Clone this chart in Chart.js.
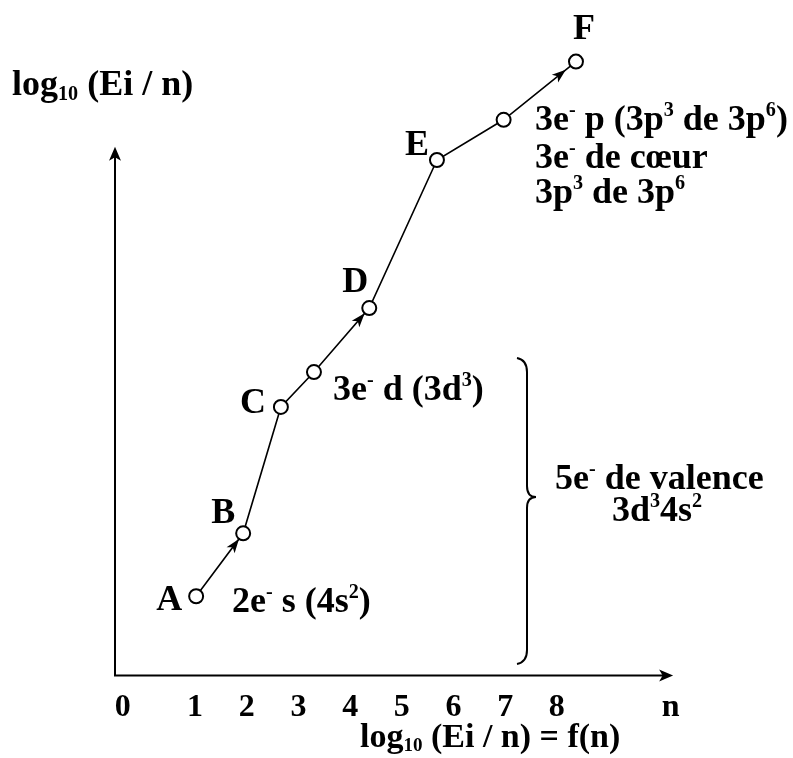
<!DOCTYPE html>
<html>
<head>
<meta charset="utf-8">
<script src="https://cdn.jsdelivr.net/npm/chart.js@4.4.0/dist/chart.umd.min.js"></script>
<style>
html, body { margin: 0; padding: 0; background: #fff; }
#wrap { width: 793px; height: 758px; }
</style>
</head>
<body>
<div id="wrap"><canvas id="ionisation" width="793" height="758"></canvas></div>
<script>
// successive ionisations, A..F plus two unnamed steps
var pointNames = ['A', 'B', 'C', '', 'D', 'E', '', 'F'];
var nPos = [1.02, 1.93, 2.66, 3.30, 4.37, 5.68, 6.97, 8.37];
var logEi = [1.50, 2.69, 5.08, 5.74, 6.95, 9.75, 10.51, 11.61];

// horizontal axis graduations
var tickValues = [-0.4, 1, 2, 3, 4, 5, 6, 7, 8, 10.2];
var tickLabels = ['0', '1', '2', '3', '4', '5', '6', '7', '8', 'n'];

// segments (start index) that carry an arrowhead, and gap before the next circle
var arrowFrom = [0, 3, 6];
var arrowGap = [7, 7, 13];

var SERIF = '"Liberation Serif", "Times New Roman", serif';
var FS = 36;

// letter offsets (px) from each named point
var nameOffsets = {
  A: [-27, 1], B: [-20, -23], C: [-28, -6], D: [-14, -28], E: [-20, -17], F: [8, -35]
};

// text with ^{..} superscripts and _{..} subscripts
function richText(ctx, str, x, y, size, align) {
  var re = /([\^_])\{([^}]*)\}|([^\^_]+)/g, m, parts = [];
  while ((m = re.exec(str))) {
    if (m[3] != null) parts.push({ t: m[3], k: 0 });
    else parts.push({ t: m[2], k: m[1] === '^' ? 1 : -1 });
  }
  var total = 0;
  parts.forEach(function (p) {
    var s = p.k ? size * 0.56 : size;
    ctx.font = 'bold ' + s + 'px ' + SERIF;
    p.w = ctx.measureText(p.t).width;
    p.s = s;
    total += p.w;
  });
  var cx = align === 'center' ? x - total / 2 : x;
  var base = y + size * 0.34;
  ctx.textBaseline = 'alphabetic';
  ctx.textAlign = 'left';
  parts.forEach(function (p) {
    ctx.font = 'bold ' + p.s + 'px ' + SERIF;
    var dy = p.k === 1 ? -size * 0.4 : (p.k === -1 ? size * 0.12 : 0);
    ctx.fillText(p.t, cx, base + dy);
    cx += p.w;
  });
}

function arrowHead(ctx, x1, y1, x2, y2, len, half) {
  var a = Math.atan2(y2 - y1, x2 - x1);
  ctx.beginPath();
  ctx.moveTo(x2, y2);
  ctx.lineTo(x2 - len * Math.cos(a) + half * Math.sin(a), y2 - len * Math.sin(a) - half * Math.cos(a));
  ctx.lineTo(x2 - len * Math.cos(a) * 0.75, y2 - len * Math.sin(a) * 0.75);
  ctx.lineTo(x2 - len * Math.cos(a) - half * Math.sin(a), y2 - len * Math.sin(a) + half * Math.cos(a));
  ctx.closePath();
  ctx.fill();
}

var decor = {
  id: 'decor',
  beforeDatasetsDraw: function (chart) {
    var ctx = chart.ctx, xs = chart.scales.x, ys = chart.scales.y;
    var ox = xs.getPixelForValue(xs.min), oy = ys.getPixelForValue(0);
    var xEnd = xs.getPixelForValue(10.25), yEnd = ys.getPixelForValue(10);
    ctx.save();
    ctx.strokeStyle = '#000';
    ctx.fillStyle = '#000';
    ctx.lineWidth = 2;
    ctx.beginPath();
    ctx.moveTo(ox, yEnd + 8);
    ctx.lineTo(ox, oy);
    ctx.lineTo(xEnd - 8, oy);
    ctx.stroke();
    arrowHead(ctx, ox, oy, ox, yEnd, 14, 6);
    arrowHead(ctx, ox, oy, xEnd, oy, 14, 6);

    // brace grouping the valence electrons
    ctx.lineWidth = 2;
    ctx.beginPath();
    ctx.moveTo(517, 358);
    ctx.quadraticCurveTo(527, 360, 527, 372);
    ctx.lineTo(527, 486);
    ctx.quadraticCurveTo(527, 497, 536, 497);
    ctx.quadraticCurveTo(527, 497, 527, 508);
    ctx.lineTo(527, 650);
    ctx.quadraticCurveTo(527, 662, 517, 664);
    ctx.stroke();
    ctx.restore();
  },
  afterDatasetsDraw: function (chart) {
    var ctx = chart.ctx, meta = chart.getDatasetMeta(0).data;
    ctx.save();
    ctx.fillStyle = '#000';
    arrowFrom.forEach(function (i, k) {
      var p = meta[i], q = meta[i + 1];
      var d = Math.hypot(q.x - p.x, q.y - p.y), g = arrowGap[k];
      var tx = q.x - (q.x - p.x) * g / d, ty = q.y - (q.y - p.y) * g / d;
      arrowHead(ctx, p.x, p.y, tx, ty, 14, 5);
    });

    pointNames.forEach(function (nm, i) {
      if (!nm) return;
      var o = nameOffsets[nm];
      richText(ctx, nm, meta[i].x + o[0], meta[i].y + o[1], FS, 'center');
    });

    richText(ctx, 'log_{10} (Ei / n)', 12, 83, FS, 'left');
    richText(ctx, '2e^{-} s (4s^{2})', 232, 600, FS, 'left');
    richText(ctx, '3e^{-} d (3d^{3})', 333, 388, FS, 'left');
    richText(ctx, '3e^{-} p (3p^{3} de 3p^{6})', 535, 118, FS, 'left');
    richText(ctx, '3e^{-} de cœur', 535, 156, FS, 'left');
    richText(ctx, '3p^{3} de 3p^{6}', 535, 191, FS, 'left');
    richText(ctx, '5e^{-} de valence', 555, 477, FS, 'left');
    richText(ctx, '3d^{3}4s^{2}', 657, 509, FS, 'center');
    richText(ctx, 'log_{10} (Ei / n) = f(n)', 360, 735, FS - 2, 'left');
    ctx.restore();
  }
};

new Chart(document.getElementById('ionisation'), {
  type: 'line',
  data: {
    datasets: [{
      data: nPos.map(function (x, i) { return { x: x, y: logEi[i] }; }),
      borderColor: '#000',
      borderWidth: 1.6,
      pointRadius: 7,
      pointBorderWidth: 2,
      pointBackgroundColor: '#fff',
      pointBorderColor: '#000',
      tension: 0,
      fill: false
    }]
  },
  options: {
    responsive: false,
    animation: false,
    devicePixelRatio: 1,
    layout: { padding: { left: 115, right: 93, top: 41, bottom: 18 } },
    plugins: { legend: { display: false }, tooltip: { enabled: false } },
    scales: {
      x: {
        type: 'linear',
        min: -0.55,
        max: 10.77,
        grid: { display: false, drawTicks: false },
        border: { display: false },
        afterBuildTicks: function (scale) {
          scale.ticks = tickValues.map(function (v) { return { value: v }; });
        },
        ticks: {
          autoSkip: false,
          maxRotation: 0,
          padding: 13,
          color: '#000',
          font: { family: SERIF, size: 32, weight: 'bold' },
          callback: function (v, i) { return tickLabels[i]; }
        }
      },
      y: { display: false, min: 0, max: 12 }
    }
  },
  plugins: [decor]
});
</script>
</body>
</html>
